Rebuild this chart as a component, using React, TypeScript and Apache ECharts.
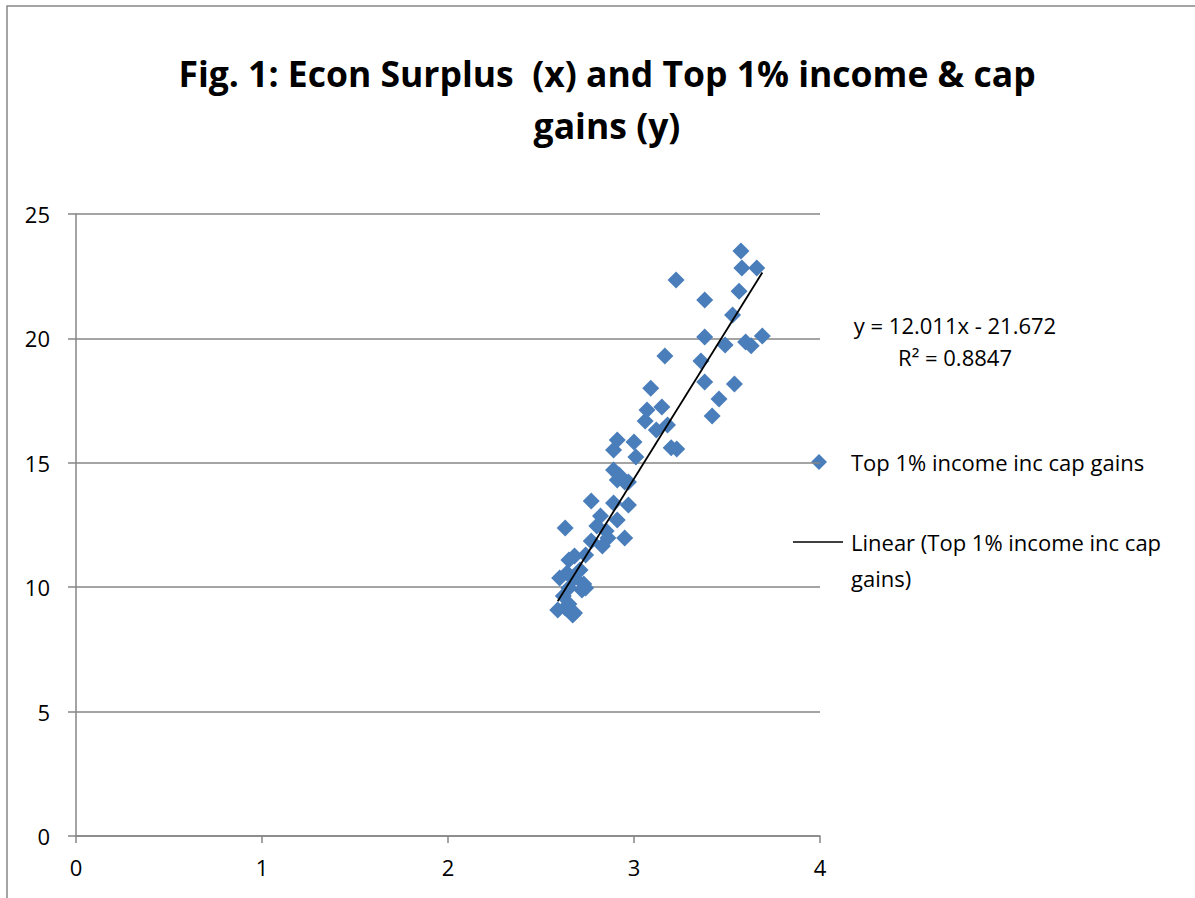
import React, { useEffect, useRef } from "react";
import * as echarts from "echarts";

const titleText = "Fig. 1: Econ Surplus  (x) and Top 1% income & cap\ngains (y)";
const seriesName = "Top 1% income inc cap gains";
const trendName = "Linear (Top 1% income inc cap\ngains)";
const equationText = "y = 12.011x - 21.672\nR² = 0.8847";
const slope = 12.011;
const intercept = -21.672;

const xValues = [
  3.575, 3.58, 3.66, 3.226, 3.565, 3.38, 3.53, 3.38, 3.49, 3.6, 3.69, 3.63,
  3.166, 3.36, 3.38, 3.54, 3.09, 3.457, 3.15, 3.07, 3.42, 3.18, 3.06, 3.12,
  2.91, 3.0, 2.89, 3.2, 3.23, 3.01, 2.89, 2.92, 2.95, 2.91, 2.97, 2.77,
  2.89, 2.97, 2.82, 2.91, 2.8, 2.85, 2.63, 2.95, 2.77, 2.83, 2.86, 2.68,
  2.74, 2.65, 2.71, 2.64, 2.6, 2.68, 2.73, 2.65, 2.72, 2.62, 2.65, 2.59,
  2.63, 2.68, 2.67, 2.74,
];
const yValues = [
  23.51, 22.83, 22.83, 22.35, 21.9, 21.54, 20.94, 20.06, 19.73, 19.86, 20.1, 19.7,
  19.29, 19.09, 18.25, 18.17, 18.0, 17.56, 17.24, 17.12, 16.88, 16.52, 16.68, 16.32,
  15.92, 15.84, 15.51, 15.6, 15.55, 15.23, 14.71, 14.51, 14.23, 14.31, 14.23, 13.46,
  13.38, 13.3, 12.86, 12.7, 12.46, 12.26, 12.38, 11.98, 11.86, 11.66, 11.98, 11.25,
  11.29, 11.09, 10.69, 10.57, 10.37, 10.37, 10.13, 9.97, 9.89, 9.65, 9.32, 9.08,
  9.16, 8.96, 8.88, 9.97,
];

const xTicks = { min: 0, max: 4, interval: 1 };
const yTicks = { min: 0, max: 25, interval: 5 };

const FONT = "'Open Sans', 'Liberation Sans', sans-serif";
const GRAY = "#868686";
const BLUE = "#4A7EBB";
const SMALL = 22;

export default function App() {
  const ref = useRef<HTMLDivElement>(null);
  useEffect(() => {
    if (!ref.current) return;
    const chart = echarts.init(ref.current, undefined, { renderer: "svg" });
    const points = xValues.map((x, i) => [x, yValues[i]]);
    const xmin = Math.min(...xValues);
    const xmax = Math.max(...xValues);
    const trend = [
      [xmin, slope * xmin + intercept],
      [xmax, slope * xmax + intercept],
    ];
    chart.setOption({
      animation: false,
      backgroundColor: "#ffffff",
      textStyle: { fontFamily: FONT },
      title: {
        text: titleText,
        left: 607,
        top: 47,
        padding: 0,
        textAlign: "center",
        textStyle: {
          fontFamily: FONT,
          fontWeight: "bold",
          fontSize: 35.5,
          lineHeight: 52,
          color: "#000",
        },
      },
      grid: { left: 76, top: 214, right: 375, bottom: 62 },
      xAxis: {
        type: "value",
        min: xTicks.min,
        max: xTicks.max,
        interval: xTicks.interval,
        axisLine: { show: true, onZero: false, lineStyle: { color: GRAY, width: 1.5 } },
        axisTick: { show: true, inside: false, length: 7, lineStyle: { color: GRAY, width: 1.5 } },
        axisLabel: { color: "#000", fontSize: SMALL, fontFamily: FONT, margin: 20 },
        splitLine: { show: false },
      },
      yAxis: {
        type: "value",
        min: yTicks.min,
        max: yTicks.max,
        interval: yTicks.interval,
        axisLine: { show: true, onZero: false, lineStyle: { color: GRAY, width: 1.5 } },
        axisTick: { show: true, inside: false, length: 8, lineStyle: { color: GRAY, width: 1.5 } },
        axisLabel: { color: "#000", fontSize: SMALL, fontFamily: FONT, margin: 26 },
        splitLine: { show: true, lineStyle: { color: GRAY, width: 1.5 } },
      },
      series: [
        {
          name: seriesName,
          type: "scatter",
          symbol: "diamond",
          symbolSize: 17,
          itemStyle: { color: BLUE, opacity: 1 },
          data: points,
          z: 2,
        },
        {
          name: "trend",
          type: "line",
          data: trend,
          showSymbol: false,
          symbol: "none",
          lineStyle: { color: "#000", width: 1.8 },
          z: 3,
        },
      ],
      graphic: [
        {
          type: "rect",
          shape: { x: 7, y: 6, width: 1300, height: 1000 },
          style: { fill: "none", stroke: GRAY, lineWidth: 1.5 },
          silent: true,
          z: -1,
        },
        {
          type: "text",
          x: 955,
          y: 309,
          style: {
            text: equationText,
            fill: "#000",
            font: `${SMALL}px ${FONT}`,
            textAlign: "center",
            lineHeight: 32,
          },
        },
        {
          type: "polygon",
          shape: { points: [[819, 454], [827, 462], [819, 470], [811, 462]] },
          style: { fill: BLUE },
        },
        {
          type: "text",
          x: 851,
          y: 462,
          style: {
            text: seriesName,
            fill: "#000",
            font: `${SMALL}px ${FONT}`,
            textVerticalAlign: "middle",
          },
        },
        {
          type: "line",
          shape: { x1: 793, y1: 542, x2: 843, y2: 542 },
          style: { stroke: "#000", lineWidth: 1.5 },
        },
        {
          type: "text",
          x: 851,
          y: 524,
          style: { text: trendName, fill: "#000", font: `${SMALL}px ${FONT}`, lineHeight: 36 },
        },
      ],
    });
    return () => chart.dispose();
  }, []);
  return (
    <div
      ref={ref}
      style={{ position: "fixed", left: 0, top: 0, width: 1195, height: 898 }}
    />
  );
}
